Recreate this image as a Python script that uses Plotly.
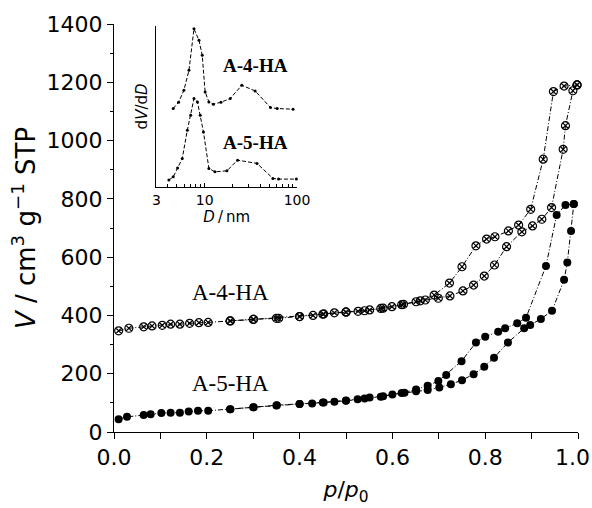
import plotly.graph_objects as go

# ---- main isotherm data (p/p0, V cm3/g STP) ----
a4_ads_p = [0.010, 0.032, 0.064, 0.082, 0.104, 0.122, 0.142, 0.163, 0.183, 0.203, 0.251, 0.301, 0.355, 0.400,
            0.429, 0.452, 0.475, 0.500, 0.526, 0.551, 0.575, 0.599, 0.624, 0.651, 0.671, 0.699, 0.724, 0.752,
            0.775, 0.798, 0.820, 0.846, 0.879, 0.902, 0.922, 0.943, 0.968, 0.973, 0.989, 0.998]
a4_ads_v = [347, 356, 361, 364, 366, 370, 370, 373, 375, 376, 381, 387, 390, 396,
            400, 405, 409, 412, 414, 419, 424, 430, 438, 447, 453, 459, 467, 484,
            504, 535, 573, 636, 687, 707, 730, 770, 970, 1051, 1171, 1191]
a4_des_p = [0.998, 0.970, 0.947, 0.925, 0.898, 0.872, 0.850, 0.821, 0.803, 0.780, 0.750, 0.723, 0.690,
            0.660, 0.620, 0.580, 0.540, 0.500, 0.450, 0.400, 0.350, 0.300, 0.250]
a4_des_v = [1191, 1187, 1168, 936, 764, 710, 690, 670, 662, 639, 567, 511, 470,
            450, 437, 425, 416, 411, 404, 396, 390, 386, 381]

a5_ads_p = [0.010, 0.028, 0.064, 0.079, 0.102, 0.122, 0.142, 0.161, 0.181, 0.203, 0.251, 0.301, 0.351, 0.400,
            0.427, 0.452, 0.475, 0.500, 0.525, 0.551, 0.575, 0.600, 0.626, 0.651, 0.676, 0.701, 0.726, 0.750,
            0.775, 0.798, 0.819, 0.849, 0.884, 0.897, 0.920, 0.944, 0.970, 0.977, 0.985, 0.991]
a5_ads_v = [44, 52, 58, 61, 65, 66, 66, 70, 73, 73, 78, 85, 92, 96,
            98, 101, 104, 107, 112, 118, 121, 129, 135, 140, 144, 153, 164, 178,
            198, 224, 255, 307, 356, 367, 388, 416, 522, 582, 690, 782]
a5_des_p = [0.991, 0.973, 0.954, 0.931, 0.888, 0.869, 0.843, 0.828, 0.800, 0.780, 0.749, 0.716, 0.699,
            0.676, 0.651, 0.620, 0.580, 0.540, 0.500, 0.450, 0.400, 0.350, 0.300, 0.250]
a5_des_v = [782, 779, 745, 570, 392, 373, 356, 344, 327, 307, 243, 196, 175,
            159, 146, 134, 123, 115, 108, 101, 96, 91, 85, 78]

# ---- inset pore size distribution (D nm, dV/dD arbitrary) ----
a4_psd_d = [4.56, 5.21, 5.95, 6.75, 7.65, 8.67, 9.40, 10.1, 11.1, 12.4, 15.0, 18.9, 25.2, 35.2, 51.6, 61.0, 90.6]
a4_psd_v = [78.4, 84.7, 96.7, 116.7, 158.2, 146.7, 131.7, 95, 85, 82.7, 84.7, 88.4, 101.7, 96, 79.4, 78.4, 77.7]
a5_psd_d = [4.09, 4.56, 5.08, 5.71, 6.48, 7.05, 7.65, 8.34, 8.94, 9.69, 11.1, 12.9, 17.4, 22.7, 36.9, 54.8, 63.1, 98.4]
a5_psd_v = [6.7, 10, 18.7, 28.4, 56.7, 71.7, 88.4, 85, 71.7, 55, 18.4, 15, 16, 26.7, 23.4, 8.4, 7.7, 7.7]

x_ticks = [0.0, 0.2, 0.4, 0.6, 0.8, 1.0]
x_tick_text = ["0.0", "0.2", "0.4", "0.6", "0.8", "1.0\u2002"]
y_ticks = [0, 200, 400, 600, 800, 1000, 1200, 1400]
inset_ticks = [3, 10, 100]
inset_tick_text = ["3", "10", "100"]
inset_minor = [4, 5, 6, 7, 8, 9, 20, 30, 40, 50, 60, 70, 80, 90]

line_style = dict(color="black", width=1, dash="5px,2px,1px,2px")
fig = go.Figure()

for px, vy in [(a4_ads_p, a4_ads_v), (a4_des_p, a4_des_v)]:
    fig.add_trace(go.Scatter(x=px, y=vy, mode="lines+markers", line=line_style,
                             marker=dict(symbol="circle-x-open", size=8, color="black",
                                         line=dict(width=1.2, color="black")),
                             cliponaxis=False, showlegend=False))
for px, vy in [(a5_ads_p, a5_ads_v), (a5_des_p, a5_des_v)]:
    fig.add_trace(go.Scatter(x=px, y=vy, mode="lines+markers", line=line_style,
                             marker=dict(symbol="circle", size=8, color="black"),
                             cliponaxis=False, showlegend=False))

psd_line = dict(color="black", width=1, dash="4px,2px")
for d, v in [(a4_psd_d, a4_psd_v), (a5_psd_d, a5_psd_v)]:
    fig.add_trace(go.Scatter(x=d, y=v, xaxis="x2", yaxis="y2", mode="lines+markers",
                             line=psd_line, marker=dict(symbol="circle", size=3, color="black"),
                             cliponaxis=False, showlegend=False))

sans = "DejaVu Sans, Arial, sans-serif"
tick_font = dict(family=sans, size=22, color="black")
fig.update_layout(
    width=592, height=508,
    margin=dict(l=113.5, r=14, t=24, b=76, autoexpand=False),
    paper_bgcolor="white", plot_bgcolor="white",
    font=tick_font,
    xaxis=dict(range=[0, 1], tickvals=x_ticks, ticktext=x_tick_text, ticks="outside", ticklen=6,
               tickcolor="black", showline=True, linecolor="black", linewidth=1, showgrid=False,
               zeroline=False, tickfont=tick_font, automargin=False, ticklabeloverflow="allow",
               minor=dict(dtick=0.1, tick0=0, ticks="outside", ticklen=6, tickcolor="black", showgrid=False),
               title=dict(text="<i>p</i>/<i>p</i><sub>0</sub>", font=dict(family=sans, size=22), standoff=12)),
    yaxis=dict(range=[0, 1400], tickvals=y_ticks, ticks="outside", ticklen=6, tickcolor="black",
               showline=True, linecolor="black", linewidth=1, showgrid=False, zeroline=False,
               tickfont=tick_font, automargin=False, ticklabeloverflow="allow",
               minor=dict(dtick=100, tick0=0, ticks="outside", ticklen=3, tickcolor="black", showgrid=False),
               title=dict(text="<i>V</i> / cm<sup>3</sup> g<sup>\u22121</sup> STP",
                          font=dict(family=sans, size=26), standoff=3)),
    xaxis2=dict(type="log", domain=[0.0915, 0.3944], anchor="y2", range=[0.477, 2],
                tickvals=inset_ticks, ticktext=inset_tick_text, ticks="inside", ticklen=4,
                tickcolor="black", showline=True, linecolor="black", linewidth=1, showgrid=False,
                zeroline=False, tickfont=dict(family=sans, size=14), automargin=False,
                ticklabeloverflow="allow",
                minor=dict(tickvals=inset_minor, ticks="inside", ticklen=3, tickcolor="black", showgrid=False),
                title=dict(text="<i>D</i>\u2009/\u2009nm", font=dict(family=sans, size=15), standoff=3)),
    yaxis2=dict(domain=[0.601, 0.995], anchor="x2", range=[0, 161], showticklabels=False, ticks="",
                showline=True, linecolor="black", linewidth=1, showgrid=False, zeroline=False,
                automargin=False,
                title=dict(text="d<i>V</i>/d<i>D</i>", font=dict(family=sans, size=15), standoff=4)),
)

serif = "Liberation Serif, Times New Roman, serif"
fig.add_annotation(x=0.251, y=477, xref="x", yref="y", text="A-4-HA", showarrow=False,
                   font=dict(family=serif, size=23, color="black"))
fig.add_annotation(x=0.251, y=165, xref="x", yref="y", text="A-5-HA", showarrow=False,
                   font=dict(family=serif, size=23, color="black"))
fig.add_annotation(x=1.546, y=121.7, xref="x2", yref="y2", text="<b>A-4-HA</b>", showarrow=False,
                   font=dict(family=serif, size=19, color="black"))
fig.add_annotation(x=1.546, y=44.7, xref="x2", yref="y2", text="<b>A-5-HA</b>", showarrow=False,
                   font=dict(family=serif, size=19, color="black"))

# remove the default 8px page margin so the 592x508 figure fills the window exactly
fig.write_html("out.html", config={"displayModeBar": False},
               post_script="document.body.style.margin='0';document.body.style.overflow='hidden';")
